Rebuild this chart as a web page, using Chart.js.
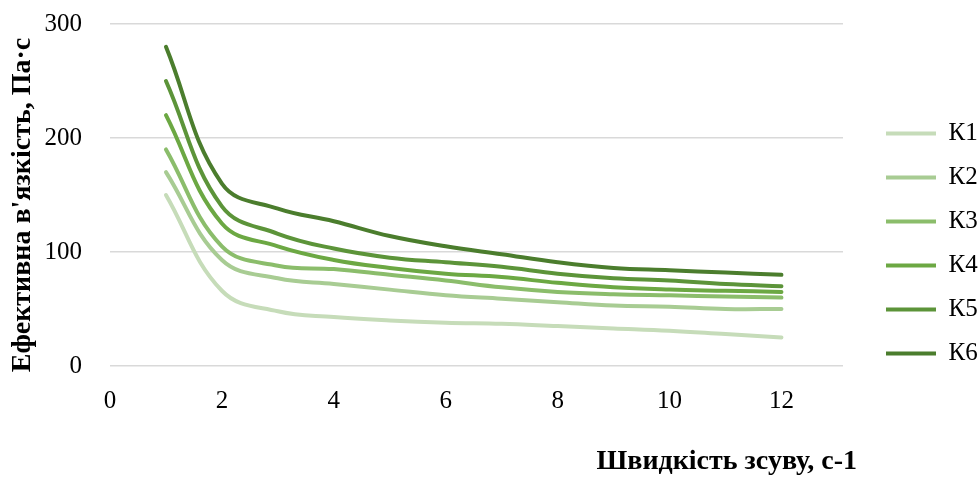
<!DOCTYPE html>
<html>
<head>
<meta charset="utf-8">
<script src="https://cdn.jsdelivr.net/npm/chart.js@4.4.1/dist/chart.umd.min.js"></script>
<style>
  html, body { margin: 0; padding: 0; background: #fff; }
  #wrap { width: 980px; height: 479px; position: relative; }
</style>
</head>
<body>
<div id="wrap"><canvas id="c"></canvas></div>
<script>
const shearRates = [1, 2, 3, 4, 5, 6, 7, 8, 9, 10, 11, 12];
const seriesNames = ['К1', 'К2', 'К3', 'К4', 'К5', 'К6'];
const k1 = [150, 66, 48, 43, 40, 38, 37, 35, 33, 31, 28, 25];
const k2 = [170, 93, 77, 72, 67, 62, 59, 56, 53, 52, 50, 50];
const k3 = [190, 105, 88, 85, 80, 75, 69, 65, 63, 62, 61, 60];
const k4 = [220, 125, 105, 93, 86, 81, 78, 73, 69, 67, 66, 65];
const k5 = [250, 140, 116, 103, 95, 91, 87, 81, 77, 75, 72, 70];
const k6 = [280, 160, 138, 127, 114, 105, 98, 91, 86, 84, 82, 80];
const xTicks = [0, 2, 4, 6, 8, 10, 12];
const yTicks = [0, 100, 200, 300];
const colors = ['#c6dcb9', '#a8cc93', '#8bbd6b', '#6ca843', '#5c9439', '#4b7d2d'];

const allSeries = [k1, k2, k3, k4, k5, k6];
const FONT = "'Liberation Serif', 'Times New Roman', serif";

const datasets = allSeries.map((vals, i) => ({
  label: seriesNames[i],
  data: shearRates.map((x, j) => ({ x: x, y: vals[j] })),
  borderColor: colors[i],
  backgroundColor: colors[i],
  borderWidth: 4,
  pointRadius: 0,
  tension: 0.4,
  borderCapStyle: 'round',
  fill: false
}));

const layoutTweak = {
  id: 'layoutTweak',
  beforeInit(chart) {
    const lg = chart.legend;
    if (!lg) return;
    const origFit = lg.fit.bind(lg);
    lg.fit = function () { origFit(); this.width = 137; };
  },
  afterLayout(chart) {
    const lg = chart.legend;
    if (lg) {
      lg.left += 24; lg.right += 24;
      lg.top -= 8; lg.bottom -= 8;
    }
    // nudge only the axis titles (scale pixel mapping is already configured)
    const sx = chart.scales.x, sy = chart.scales.y;
    if (sx) { sx.right += 14; }
    if (sy) { sy.top += 10; sy.bottom += 10; }
  }
};

new Chart(document.getElementById('c'), {
  type: 'line',
  data: { datasets: datasets },
  plugins: [layoutTweak],
  options: {
    responsive: true,
    maintainAspectRatio: false,
    animation: false,
    layout: { padding: { left: 6, right: 0, top: 24, bottom: 0 } },
    plugins: {
      tooltip: { enabled: false },
      legend: {
        position: 'right',
        labels: {
          font: { family: FONT, size: 25 },
          color: '#000',
          boxWidth: 50,
          boxHeight: 4,
          padding: 19,
          generateLabels(chart) {
            return chart.data.datasets.map((d, i) => ({
              text: d.label,
              fillStyle: d.borderColor,
              strokeStyle: d.borderColor,
              lineWidth: 0,
              hidden: false,
              datasetIndex: i,
              fontColor: '#000'
            }));
          }
        }
      }
    },
    scales: {
      x: {
        type: 'linear',
        min: 0,
        max: 13.1,
        afterBuildTicks(scale) { scale.ticks = xTicks.map(v => ({ value: v })); },
        afterFit(scale) { scale.height = 113; scale.paddingLeft = 0; scale.paddingRight = 0; },
        grid: { display: false, drawTicks: false },
        border: { display: false },
        ticks: {
          font: { family: FONT, size: 25 },
          color: '#000',
          padding: 20,
          maxRotation: 0
        },
        title: {
          display: true,
          text: 'Швидкість зсуву, с-1',
          align: 'end',
          font: { family: FONT, size: 28, weight: 'bold' },
          color: '#000',
          padding: { top: 0, bottom: 0 }
        }
      },
      y: {
        min: 0,
        max: 300,
        afterBuildTicks(scale) { scale.ticks = yTicks.map(v => ({ value: v })); },
        afterFit(scale) { scale.width = 104; scale.paddingTop = 0; scale.paddingBottom = 0; },
        grid: { color: '#d9d9d9', lineWidth: 1.5, drawTicks: false },
        border: { display: false },
        ticks: {
          font: { family: FONT, size: 25 },
          color: '#000',
          padding: 28
        },
        title: {
          display: true,
          text: "Ефективна в'язкість, Па·с",
          font: { family: FONT, size: 28, weight: 'bold' },
          color: '#000',
          padding: { top: 0, bottom: 0 }
        }
      }
    }
  }
});
</script>
</body>
</html>
